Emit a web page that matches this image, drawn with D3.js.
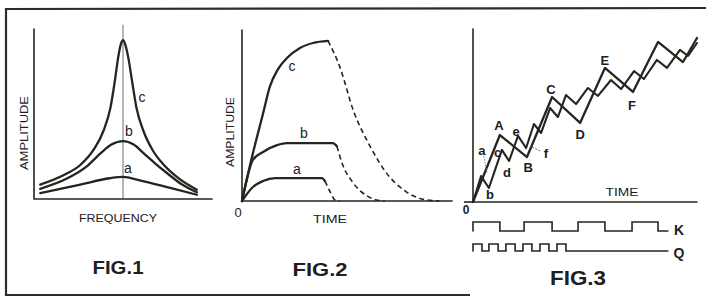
<!DOCTYPE html>
<html>
<head>
<meta charset="utf-8">
<script src="https://cdn.jsdelivr.net/npm/d3@7"></script>
<style>
  body { margin: 0; background: #fff; }
  svg { display: block; }
  text { font-family: "Liberation Sans", Arial, sans-serif; fill: #1e201b; }
</style>
</head>
<body>
<div id="chart"></div>
<script>
// ---- Fig. 1: resonance curves, [frequency offset, amplitude] ----
const fig1A = [[-0.93, 0.035], [-0.48, 0.085], [-0.15, 0.122], [0, 0.13], [0.19, 0.11], [0.53, 0.065], [0.83, 0.025]];
const fig1B = [[-0.93, 0.06], [-0.63, 0.12], [-0.4, 0.195], [-0.25, 0.27], [-0.13, 0.32], [0, 0.34],
               [0.12, 0.32], [0.23, 0.27], [0.36, 0.21], [0.5, 0.15], [0.65, 0.09], [0.83, 0.04]];
const fig1C = [[-0.93, 0.085], [-0.67, 0.14], [-0.48, 0.2], [-0.33, 0.29], [-0.22, 0.40], [-0.14, 0.54],
               [-0.09, 0.70], [-0.055, 0.83], [-0.025, 0.91], [0, 0.935], [0.025, 0.91], [0.06, 0.83],
               [0.10, 0.70], [0.15, 0.54], [0.23, 0.40], [0.33, 0.29], [0.46, 0.20], [0.63, 0.12], [0.83, 0.055]];

// ---- Fig. 2: build-up (solid) and decay (dashed), [time, amplitude] ----
const fig2A = [[0, 0], [0.052, 0.082], [0.10, 0.117], [0.157, 0.134], [0.214, 0.134], [0.38, 0.134], [0.395, 0.117]];
const fig2ADecay = [[0.395, 0.117], [0.42, 0.053], [0.443, 0.006], [0.467, 0]];
const fig2B = [[0, 0], [0.052, 0.24], [0.10, 0.287], [0.167, 0.327], [0.214, 0.339], [0.433, 0.339], [0.452, 0.32]];
const fig2BDecay = [[0.452, 0.32], [0.48, 0.21], [0.53, 0.105], [0.595, 0.03], [0.64, 0.006], [0.68, 0]];
const fig2C = [[0, 0], [0.052, 0.28], [0.10, 0.51], [0.133, 0.67], [0.171, 0.77], [0.214, 0.836],
               [0.276, 0.895], [0.338, 0.924], [0.41, 0.936]];
const fig2CDecay = [[0.41, 0.936], [0.467, 0.78], [0.53, 0.53], [0.61, 0.32], [0.69, 0.16], [0.77, 0.064], [0.88, 0.006], [0.94, 0]];

// ---- Fig. 3: two zigzag responses, [time, amplitude] ----
const fig3Big = [[0, 0], [0.12, 0.387], [0.241, 0.26], [0.353, 0.607], [0.478, 0.457], [0.589, 0.775],
                 [0.714, 0.636], [0.826, 0.925], [0.9375, 0.809], [1.0, 0.948]];
const fig3Small = [[0, 0], [0.036, 0.15], [0.071, 0.081], [0.129, 0.301], [0.161, 0.237], [0.201, 0.382],
                   [0.237, 0.312], [0.272, 0.451], [0.304, 0.399], [0.344, 0.543], [0.379, 0.491],
                   [0.415, 0.618], [0.46, 0.566], [0.513, 0.659], [0.558, 0.613], [0.616, 0.705],
                   [0.661, 0.653], [0.719, 0.757], [0.763, 0.711], [0.821, 0.821], [0.866, 0.775],
                   [0.924, 0.879], [0.96, 0.844], [1.0, 0.919]];
// keying pulses, [on, off] in the same time units
const pulsesK = [[0, 0.12], [0.228, 0.353], [0.469, 0.589], [0.71, 0.826]];
const pulsesQ = [[0, 0.04], [0.071, 0.112], [0.147, 0.188], [0.223, 0.263], [0.299, 0.339], [0.375, 0.415]];
const pulseEnd = 0.87;

// point labels of fig. 3: [time, amplitude, text]
const fig3Labels = [[0.116, 0.44, "A"], [0.246, 0.197, "B"], [0.348, 0.65, "C"], [0.478, 0.39, "D"],
                    [0.589, 0.82, "E"], [0.71, 0.56, "F"], [0.04, 0.30, "a"], [0.076, 0.045, "b"],
                    [0.11, 0.284, "c"], [0.152, 0.173, "d"], [0.192, 0.41, "e"], [0.325, 0.283, "f"]];

const ink = "#23261f";
const svg = d3.select("#chart").append("svg")
  .attr("width", 706)
  .attr("height", 300);

// outer frame (open at right)
svg.append("path")
  .attr("d", d3.line()([[706, 8], [6, 9], [6, 295], [470, 295]]))
  .attr("fill", "none").attr("stroke", "#2b2d28").attr("stroke-width", 2.2);

function stroke(sel, w) {
  return sel.attr("fill", "none").attr("stroke", ink).attr("stroke-width", w)
    .attr("stroke-linejoin", "round").attr("stroke-linecap", "round");
}

function label(x, y, txt, size, opts = {}) {
  const t = svg.append("text")
    .attr("x", x).attr("y", y)
    .attr("text-anchor", "middle")
    .attr("dominant-baseline", "central")
    .attr("font-size", size)
    .attr("font-weight", opts.bold ? "bold" : "normal")
    .text(txt);
  if (opts.len) t.attr("textLength", opts.len).attr("lengthAdjust", "spacingAndGlyphs");
  if (opts.rotate) t.attr("transform", `rotate(-90, ${x}, ${y})`);
  return t;
}

// ================= FIG. 1 =================
(function() {
  const x = d3.scaleLinear().domain([-1, 1]).range([34, 212]);
  const y = d3.scaleLinear().domain([0, 1]).range([199, 29]);
  const line = d3.line().x(d => x(d[0])).y(d => y(d[1])).curve(d3.curveMonotoneX);

  svg.append("line").attr("x1", x(0)).attr("x2", x(0)).attr("y1", y(0)).attr("y2", y(1.025))
    .attr("stroke", "#6d6f69").attr("stroke-width", 1);
  stroke(svg.append("path").attr("d", d3.line()([[x(-1), y(1)], [x(-1), y(0)], [x(1), y(0)]])), 1.6);

  [fig1A, fig1B, fig1C].forEach(s => stroke(svg.append("path").attr("d", line(s)), 2.3));

  label(142, 97, "c", 14);
  label(129, 131, "b", 14);
  label(128, 168, "a", 14);
  label(24, 133, "AMPLITUDE", 11, { rotate: true, len: 74 });
  label(118, 218, "FREQUENCY", 11, { len: 78 });
  label(118, 267, "FIG.1", 19, { bold: true, len: 51 });
})();

// ================= FIG. 2 =================
(function() {
  const x = d3.scaleLinear().domain([0, 1]).range([242, 452]);
  const y = d3.scaleLinear().domain([0, 1]).range([201, 30]);
  const line = d3.line().x(d => x(d[0])).y(d => y(d[1])).curve(d3.curveMonotoneX);

  stroke(svg.append("path").attr("d", d3.line()([[x(0), y(1)], [x(0), y(0)], [x(1), y(0)]])), 1.6);

  [fig2A, fig2B, fig2C].forEach(s => stroke(svg.append("path").attr("d", line(s)), 2.3));
  [fig2ADecay, fig2BDecay, fig2CDecay].forEach(s =>
    stroke(svg.append("path").attr("d", line(s)), 1.6).attr("stroke-dasharray", "5,3.5").attr("stroke-linecap", "butt"));

  label(292, 66, "c", 14);
  label(304, 133, "b", 14);
  label(297, 169, "a", 14);
  label(238, 212, "0", 13);
  label(230, 132, "AMPLITUDE", 11, { rotate: true, len: 70 });
  label(330, 219, "TIME", 11, { len: 34 });
  label(320, 269, "FIG.2", 19, { bold: true, len: 55 });
})();

// ================= FIG. 3 =================
(function() {
  const x = d3.scaleLinear().domain([0, 1]).range([473, 697]);
  const y = d3.scaleLinear().domain([0, 1]).range([202, 29]);
  const line = d3.line().x(d => x(d[0])).y(d => y(d[1]));

  stroke(svg.append("path").attr("d", d3.line()([[x(0), y(1)], [x(0), y(0)], [x(1), y(0)]])), 1.6);
  svg.append("line").attr("x1", x(-0.04)).attr("x2", x(0)).attr("y1", y(0)).attr("y2", y(0))
    .attr("stroke", ink).attr("stroke-width", 1.6);

  stroke(svg.append("path").attr("d", line(fig3Small)), 2.1);
  stroke(svg.append("path").attr("d", line(fig3Big)), 2.3);

  // leader lines for a and f
  svg.append("line").attr("x1", x(0.048)).attr("y1", y(0.265)).attr("x2", x(0.062)).attr("y2", y(0.17))
    .attr("stroke", "#777").attr("stroke-width", 1).attr("stroke-dasharray", "1.5,1.5");
  svg.append("line").attr("x1", x(0.3)).attr("y1", y(0.295)).attr("x2", x(0.26)).attr("y2", y(0.32))
    .attr("stroke", "#666").attr("stroke-width", 1).attr("stroke-dasharray", "2,1.5");

  fig3Labels.forEach(([t, a, txt]) => label(x(t), y(a), txt, 13, { bold: true }));

  label(466, 210, "0", 12, { bold: true });
  label(622, 192, "TIME", 11, { len: 33 });

  // keying waveforms K and Q
  function wave(pulses, yBase, yTop) {
    const pts = [];
    pulses.forEach(([on, off]) => {
      pts.push([x(on), yBase], [x(on), yTop], [x(off), yTop], [x(off), yBase]);
    });
    pts.push([x(pulseEnd), yBase]);
    return d3.line()(pts);
  }
  const yK = d3.scaleLinear().domain([0, 1]).range([231, 222]);
  const yQ = d3.scaleLinear().domain([0, 1]).range([251, 244]);
  stroke(svg.append("path").attr("d", wave(pulsesK, yK(0), yK(1))), 1.6).attr("stroke-linejoin", "miter");
  stroke(svg.append("path").attr("d", wave(pulsesQ, yQ(0), yQ(1))), 1.6).attr("stroke-linejoin", "miter");

  label(679, 230, "K", 14, { bold: true });
  label(679, 253, "Q", 14, { bold: true });
  label(578, 277, "FIG.3", 21, { bold: true, len: 56 });
})();
</script>
</body>
</html>
